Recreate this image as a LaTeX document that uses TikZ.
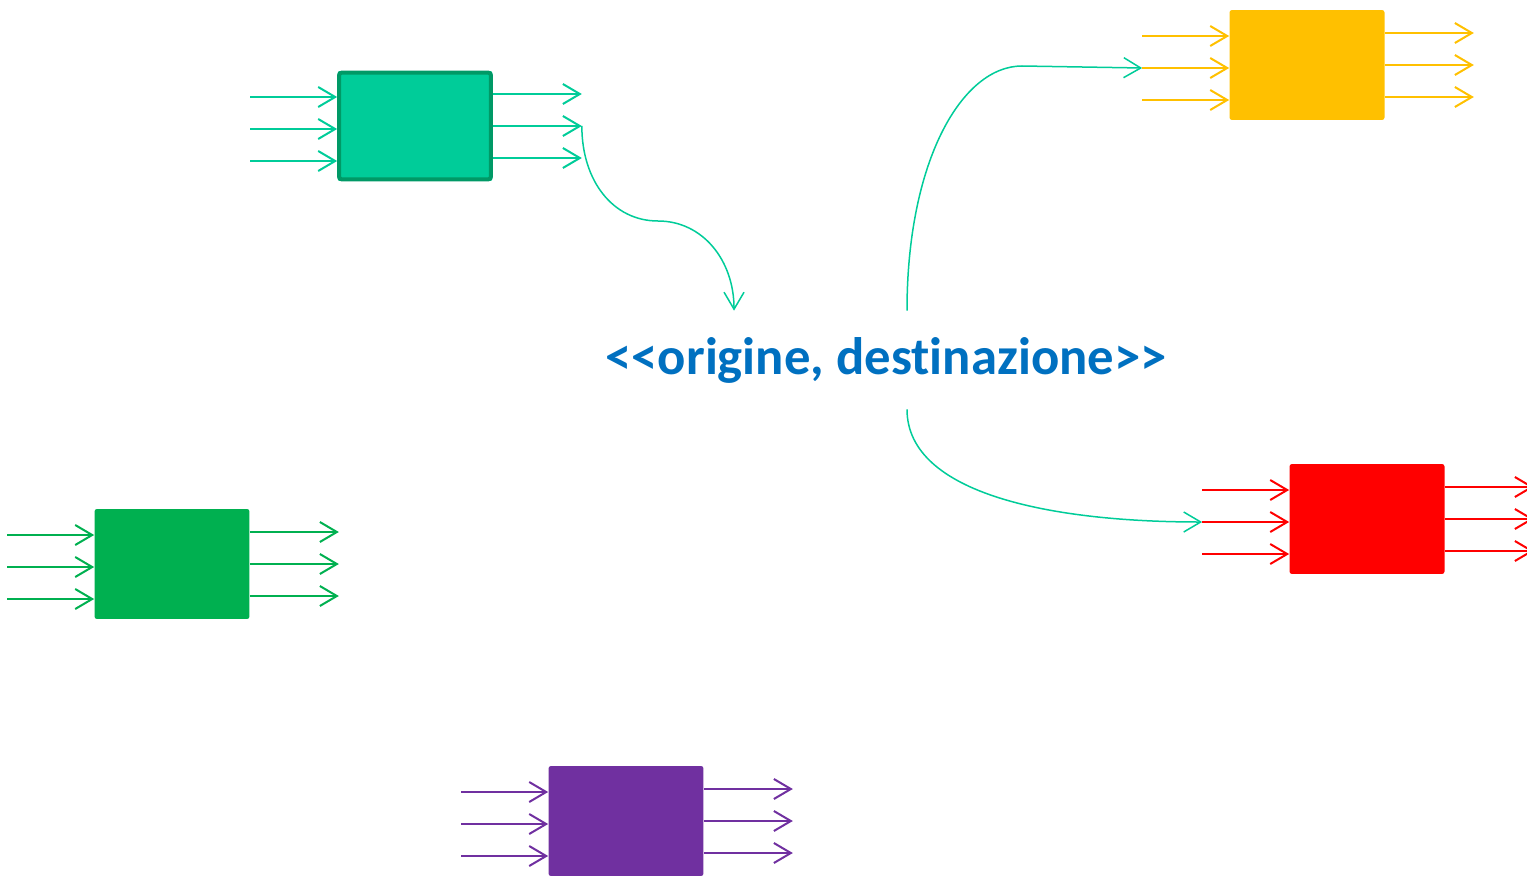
\documentclass[tikz,border=0pt]{standalone}
\usepackage{fontspec}
\setmainfont{Carlito}[Ligatures=NoCommon, RawFeature=-liga]
\usetikzlibrary{arrows.meta,calc}

\definecolor{acqua}{HTML}{00CC99}
\definecolor{smeraldo}{HTML}{009966}
\definecolor{ambra}{HTML}{FFC000}
\definecolor{scarlatto}{HTML}{FF0000}
\definecolor{prato}{HTML}{00B050}
\definecolor{porpora}{HTML}{7030A0}
\definecolor{blu}{HTML}{0070C0}

\tikzset{
  blocco/.style={fill=#1, rounded corners=0.05cm, minimum width=3.1cm,
                 minimum height=2.2cm, inner sep=0pt},
  flusso/.style={draw=#1, line width=0.04cm,
                 -{Straight Barb[length=3.4mm,width=4mm]}},
  curva/.style={draw=acqua, line width=0.03cm,
                -{Straight Barb[length=3.4mm,width=4mm]}}
}

\begin{document}
\begin{tikzpicture}[x=0.02cm, y=-0.02cm]
    \useasboundingbox (0,0) rectangle (1527,875);
    \clip (0,0) rectangle (1527,875);

    \foreach \nome/\col/\cx/\cy in {verdeacqua/acqua/415/126,
                                    giallo/ambra/1307/65,
                                    rosso/scarlatto/1367/519,
                                    verde/prato/172/564,
                                    viola/porpora/626/821}{
      \node[blocco=\col] (\nome) at (\cx,\cy) {};
      \foreach \dy [count=\i] in {-29,3,35} {
        \coordinate (\nome-i\i) at ($(\nome.west)+(-87,\dy)$);
        \draw[flusso=\col] (\nome-i\i) -- (\nome-i\i -| \nome.west);
      }
      \foreach \dy [count=\i] in {-32,0,32} {
        \coordinate (\nome-o\i) at ($(\nome.east)+(89,\dy)$);
        \draw[flusso=\col] (\nome-o\i -| \nome.east) -- (\nome-o\i);
      }
    }
    \draw[smeraldo, line width=0.08cm, rounded corners=0.05cm]
      ([xshift=0.04cm,yshift=-0.04cm]verdeacqua.north west) rectangle
      ([xshift=-0.04cm,yshift=0.04cm]verdeacqua.south east);

    \node[text=blu, font=\bfseries\fontsize{30}{36}\selectfont, anchor=base,
          inner ysep=0.52cm] (od) at (886,374) {<{}<origine, destinazione>{}>};

    \draw[curva] (verdeacqua-o2) .. controls +(0,55) and +(-45,0) .. (658,221)
      .. controls +(45,0) and +(0,-50) .. ([xshift=-3.04cm]od.north);
    \draw[curva] ([xshift=0.42cm]od.north) .. controls +(0,-150) and +(-60,0) .. (1022,66)
      -- (giallo-i2);
    \draw[curva] ([xshift=0.42cm]od.south) .. controls +(0,85) and +(-150,0) .. (rosso-i2);
\end{tikzpicture}
\end{document}
